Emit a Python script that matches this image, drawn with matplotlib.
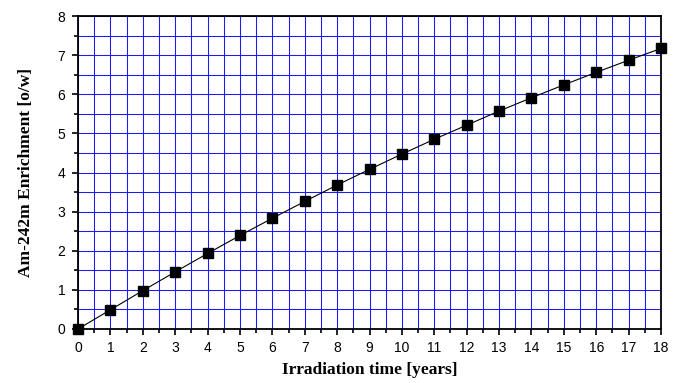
import matplotlib
matplotlib.use('Agg')
import matplotlib.pyplot as plt
from matplotlib.ticker import MultipleLocator

# irradiation time [years] vs Am-242m enrichment [o/w]
years = [0, 1, 2, 3, 4, 5, 6, 7, 8, 9, 10, 11, 12, 13, 14, 15, 16, 17, 18]
enrich = [0.0, 0.49, 0.98, 1.46, 1.93, 2.39, 2.83, 3.26, 3.68, 4.08, 4.47,
          4.85, 5.21, 5.57, 5.91, 6.24, 6.56, 6.87, 7.17]

fig = plt.figure(figsize=(6.78, 3.83), dpi=100)
ax = fig.add_axes([78/678, 1-329/383, (661-78)/678, (329-16)/383])

ax.plot(years, enrich, color='black', lw=0.8, marker='s', ms=7,
        mfc='black', mec='black', zorder=3, clip_on=False)

ax.set_xlim(0, 18)
ax.set_ylim(0, 8)
ax.xaxis.set_major_locator(MultipleLocator(1))
ax.xaxis.set_minor_locator(MultipleLocator(0.5))
ax.yaxis.set_major_locator(MultipleLocator(1))
ax.yaxis.set_minor_locator(MultipleLocator(0.5))
ax.grid(True, which='both', color='#1a1aff', lw=0.75)
ax.set_axisbelow(True)

ax.tick_params(which='both', direction='out', top=False, right=False, width=1.2,
               labelsize=10, pad=5)
ax.tick_params(which='major', length=4)
ax.tick_params(which='minor', length=3)
for lab in ax.get_xticklabels() + ax.get_yticklabels():
    lab.set_family('Liberation Sans')
for s in ax.spines.values():
    s.set_linewidth(1.3)

ax.set_xlabel('Irradiation time [years]', family='Liberation Serif',
              fontweight='bold', fontsize=12.5, labelpad=5)
ax.set_ylabel('Am-242m Enrichment [o/w]', family='Liberation Serif',
              fontweight='bold', fontsize=12.5, labelpad=17)

fig.savefig('out.png', dpi=100)
